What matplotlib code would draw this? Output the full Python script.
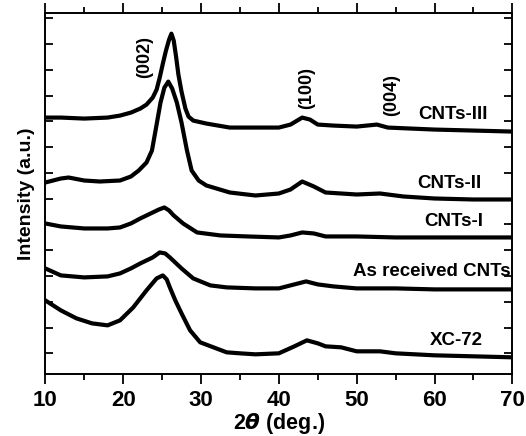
import numpy as np
import matplotlib.pyplot as plt

plt.rcParams['font.family'] = ['Liberation Sans', 'DejaVu Sans']
plt.rcParams['font.weight'] = 'bold'
plt.rcParams['mathtext.fontset'] = 'dejavusans'

# values (stacked intensity, a.u.)
x_iii = [10, 12, 15, 18, 19.6, 21, 22.2, 23, 23.8, 24.3, 24.7, 25.1, 25.5, 25.9, 26.2,
         26.5, 26.8, 27.1, 27.5, 28.0, 28.4, 29.0, 30.7, 33.7, 37, 40, 41.5, 43, 44,
         45, 47, 50, 52.6, 54, 57, 60, 65, 70]
y_iii = [257, 257, 256, 257, 259, 262, 266, 270, 277, 285, 297, 311, 324, 335, 341,
         334, 318, 300, 283, 266, 258, 254, 251, 247, 247, 247, 250, 257, 255,
         250, 249, 248, 250, 247, 246, 245, 244, 243]

x_ii = [10, 12, 13, 15, 17, 19.6, 21, 22, 23, 23.7, 24.3, 24.8, 25.3, 25.8, 26.3,
        26.9, 27.5, 28.2, 28.8, 29.7, 30.7, 33.7, 37, 40, 41.5, 43, 44.5, 46, 50,
        53, 56, 60, 65, 70]
y_ii = [192, 196, 197, 194, 193, 194, 198, 204, 212, 224, 250, 272, 287, 293, 286,
        272, 252, 224, 204, 194, 189, 182, 179, 181, 185, 193, 188, 182, 180,
        181, 178, 176, 175, 175]

x_i = [10, 12, 15, 18, 19.6, 21, 22.2, 23.8, 24.6, 25.3, 25.9, 26.5, 27.7, 29.5, 32.5,
       36, 40, 41.5, 43, 44.5, 46, 50, 55, 60, 65, 70]
y_i = [151, 148, 146, 146, 147, 151, 156, 162, 165, 167, 164, 159, 151, 142, 139,
       138, 137, 139, 142, 141, 138, 138, 137, 137, 137, 137]

x_ar = [10, 12, 15, 18, 19.6, 21, 22.2, 23.8, 24.7, 25.4, 26, 27.5, 29, 31.2, 33.3,
        37, 40, 42, 43.5, 45, 47, 50, 55, 60, 70]
y_ar = [106, 99, 97, 98, 101, 106, 111, 117, 122, 121, 117, 106, 96, 89, 87,
        86, 86, 90, 93, 90, 88, 86, 86, 85, 85]

x_xc = [10, 12, 14, 16, 18, 19.6, 21.3, 23, 24.3, 25.1, 25.6, 26, 26.7, 27.5, 28.6,
        29.9, 31.6, 33.3, 35, 37, 40, 42, 43.6, 45, 46, 48, 50, 53, 55, 60, 65, 70]
y_xc = [74, 64, 56, 51, 49, 54, 67, 84, 96, 99, 95, 87, 74, 61, 44,
        32, 27, 22, 21, 20, 21, 28, 34, 31, 28, 27, 23, 23, 21, 19, 18, 17]

series = [(x_iii, y_iii), (x_ii, y_ii), (x_i, y_i), (x_ar, y_ar), (x_xc, y_xc)]
names = ['CNTs-III', 'CNTs-II', 'CNTs-I', 'As received CNTs', 'XC-72']
name_pos = [(62.4, 260), (61.9, 191), (62.5, 153), (59.6, 103), (62.8, 34)]

peaks = ['(002)', '(100)', '(004)']
peak_pos = [(22.7, 318), (43.6, 287), (54.5, 280)]

fig = plt.figure(figsize=(5.26, 4.36), dpi=100)
ax = fig.add_axes([0.0861, 0.1415, 0.888, 0.8294])

for xs, ys in series:
    ax.plot(xs, ys, color='black', lw=3.0, solid_joinstyle='round')

for s, (px, py) in zip(names, name_pos):
    ax.text(px, py, s, ha='center', va='center', fontsize=13.5, fontweight='bold')
for s, (px, py) in zip(peaks, peak_pos):
    ax.text(px, py, s, ha='center', va='center', rotation=90, fontsize=13,
            fontweight='bold')

ax.set_xlim(10, 70)
ax.set_ylim(0, 362)
ax.set_xticks(np.arange(10, 71, 10))
ax.set_xticks(np.arange(15, 70, 10), minor=True)
ax.set_yticks(np.arange(21, 362, 25.8))
ax.set_yticklabels([])

ax.tick_params(axis='x', which='major', direction='out', length=7, width=1.3,
               labelsize=16, pad=4)
ax.tick_params(axis='x', which='minor', direction='out', length=4, width=1.3)
ax.tick_params(axis='y', direction='in', length=6, width=1.3, right=True)
ax.tick_params(axis='x', which='both', top=True)

for sp in ax.spines.values():
    sp.set_linewidth(1.4)

for lab in ax.get_xticklabels():
    lab.set_fontweight('bold')

ax.set_xlabel(r'2$\theta$ (deg.)', fontsize=15.5, fontweight='bold', labelpad=0)
ax.set_ylabel('Intensity (a.u.)', fontsize=14, fontweight='bold', labelpad=4)

fig.savefig('out.png', dpi=100)
